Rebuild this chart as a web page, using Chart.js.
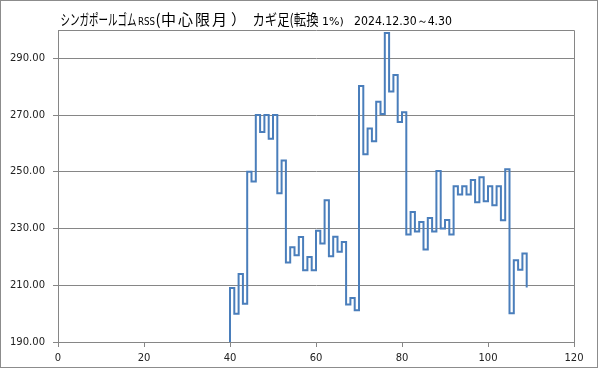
<!DOCTYPE html>
<html>
<head>
<meta charset="utf-8">
<script src="https://cdn.jsdelivr.net/npm/chart.js@4/dist/chart.umd.min.js"></script>
<style>
html,body{margin:0;padding:0;background:#fff;}
canvas{display:block;}
</style>
</head>
<body>
<canvas id="c" width="599" height="369"></canvas>
<script>
// Kagi chart: the x position of each turn and the price reached at that turn
const startX = 40;
const startValue = 190;
const kagiValues = [
  209, 200, 214, 203.5, 250, 246.6, 270, 264, 270, 261.7,
  270, 242.4, 254, 218, 223.4, 220.6, 227, 215.3, 220, 215.3,
  229.2, 224.7, 240, 220.2, 227.1, 221.8, 225.3, 203.2, 205.5, 201.2,
  280.3, 256.2, 265.3, 260.8, 274.7, 270.4, 298.9, 278.3, 284.1, 267.6,
  271, 227.9, 235.8, 229, 232.3, 222.6, 233.7, 229, 250.3, 230,
  233, 227.9, 244.9, 242, 244.9, 242, 247.1, 239.3, 248.1, 239.6,
  244.9, 238.2, 244.9, 232.9, 250.9, 200.1, 218.8, 215.5, 221.2, 209.2
];
const xTicks = [0, 20, 40, 60, 80, 100, 120];
const yTicks = [190, 210, 230, 250, 270, 290];
const yMin = 190, yMax = 300;
const titleParts = [
  {text: 'シンガポールゴム', x: 60.5, w: 76, font: '15px "Noto Sans CJK JP"', ls: '0px'},
  {text: 'RSS', x: 138, w: 17, font: '10px "DejaVu Sans"', ls: '0px'},
  {text: '(', x: 155.5, w: 6, font: '15px "Noto Sans CJK JP"', ls: '0px'},
  {text: '中心限月', x: 161, w: 74, font: '15px "Noto Sans CJK JP"', ls: '2px'},
  {text: '）', x: 231, w: 16, font: '15px "Noto Sans CJK JP"', ls: '0px'},
  {text: 'カギ足(転換', x: 252.5, w: 66, font: '15px "Noto Sans CJK JP"', ls: '0px'},
  {text: '1%)', x: 322, w: 25, font: '11px "DejaVu Sans"', ls: '0px'},
  {text: '2024.12.30～4.30', x: 354, w: 98, font: '12px "DejaVu Sans"', ls: '0px'}
];

// build step points from the kagi turns
const points = [{x: startX, y: startValue}];
kagiValues.forEach((v, i) => {
  const x = startX + i;
  points.push({x: x, y: v});
  if (i < kagiValues.length - 1) points.push({x: x + 1, y: v});
});

const frame = {
  id: 'frame',
  beforeDraw(chart) {
    const ctx = chart.ctx;
    ctx.save();
    ctx.fillStyle = '#fff';
    ctx.fillRect(0, 0, chart.width, chart.height);
    ctx.restore();
  },
  afterDraw(chart) {
    const ctx = chart.ctx;
    const a = chart.chartArea;
    ctx.save();
    ctx.strokeStyle = '#868686';
    ctx.lineWidth = 1;
    ctx.beginPath();
    ctx.moveTo(Math.round(a.left) + 0.5, Math.round(a.top) + 0.5);
    ctx.lineTo(Math.round(a.right) + 0.5, Math.round(a.top) + 0.5);
    ctx.lineTo(Math.round(a.right) + 0.5, Math.round(a.bottom) + 0.5);
    ctx.stroke();
    ctx.strokeStyle = '#8c8c8c';
    ctx.strokeRect(0.5, 0.5, 597, 367);
    ctx.fillStyle = '#000';
    ctx.textBaseline = 'alphabetic';
    titleParts.forEach(p => {
      ctx.font = p.font;
      ctx.letterSpacing = p.ls;
      ctx.fillText(p.text, p.x, 24.5, p.w);
    });
    ctx.letterSpacing = '0px';
    ctx.restore();
  }
};

new Chart(document.getElementById('c'), {
  type: 'line',
  data: {
    datasets: [{
      data: points,
      borderColor: '#4a7ebb',
      borderWidth: 2,
      pointRadius: 0,
      tension: 0,
      fill: false
    }]
  },
  options: {
    responsive: false,
    animation: false,
    devicePixelRatio: 1,
    layout: {padding: {top: 30, right: 25, left: 0, bottom: 0}},
    plugins: {legend: {display: false}, tooltip: {enabled: false}, title: {display: false}},
    scales: {
      x: {
        type: 'linear',
        min: 0, max: 120,
        afterBuildTicks(s) { s.ticks = xTicks.map(v => ({value: v})); },
        afterFit(s) { s.height = 27; },
        grid: {drawOnChartArea: false, drawTicks: true, tickLength: 5, color: '#868686'},
        border: {color: '#868686'},
        ticks: {color: '#222', font: {family: 'DejaVu Sans', size: 10}, padding: 5, maxRotation: 0}
      },
      y: {
        min: yMin, max: yMax,
        afterBuildTicks(s) { s.ticks = yTicks.map(v => ({value: v})); },
        afterFit(s) { s.width = 58; },
        grid: {color: '#868686', borderDash: [4, 3], tickBorderDash: [], tickLength: 5, tickColor: '#868686'},
        border: {color: '#868686'},
        ticks: {color: '#222', font: {family: 'DejaVu Sans', size: 10}, padding: 8,
          callback: v => Number(v).toFixed(2)}
      }
    }
  },
  plugins: [frame]
});
</script>
</body>
</html>
